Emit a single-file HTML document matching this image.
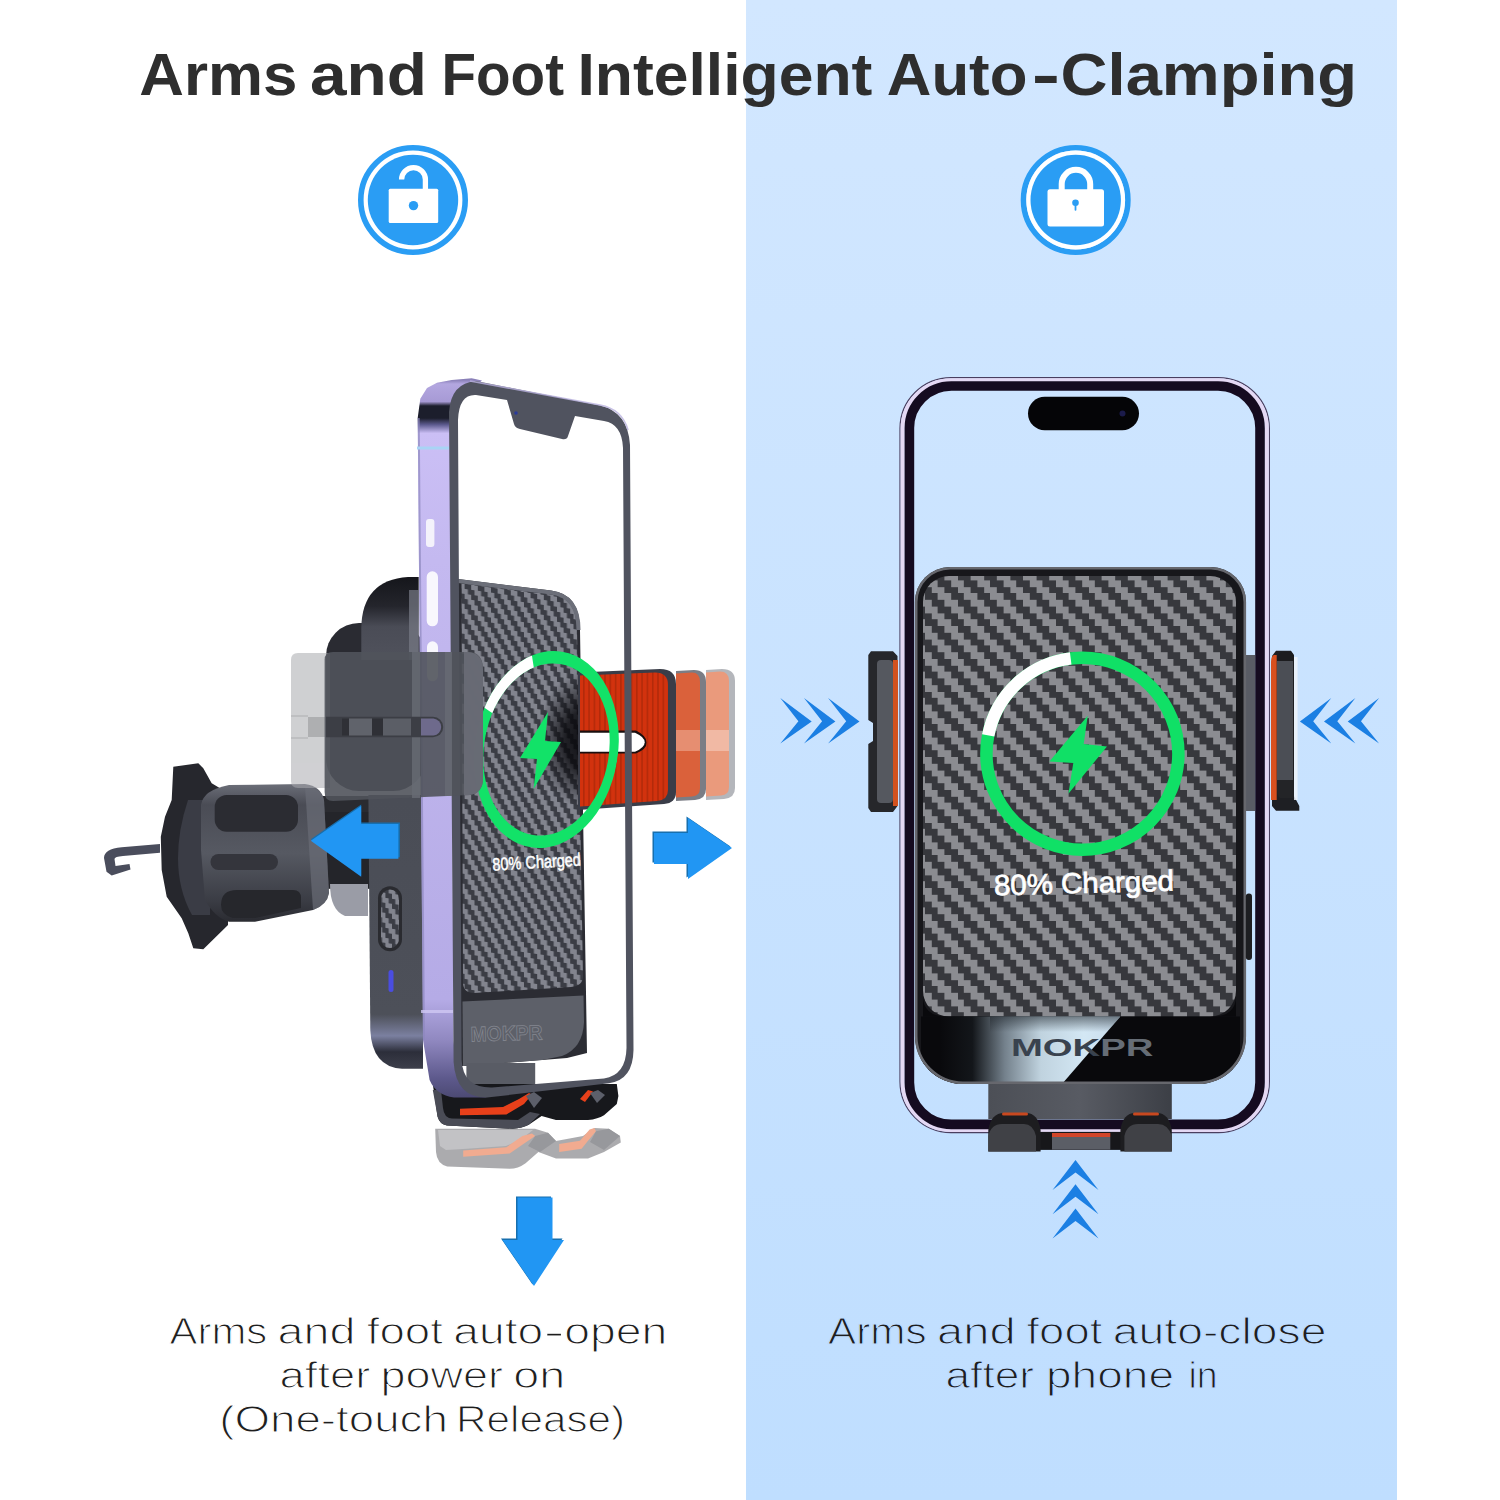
<!DOCTYPE html>
<html><head><meta charset="utf-8">
<style>
html,body{margin:0;padding:0;background:#fff;}
body{width:1500px;height:1500px;overflow:hidden;position:relative;font-family:"Liberation Sans",sans-serif;}
svg{position:absolute;left:0;top:0;display:block}
text{font-family:"Liberation Sans",sans-serif;}
</style></head><body>
<svg width="1500" height="1500" viewBox="0 0 1500 1500">
<defs>
<linearGradient id="panel" x1="0" y1="0" x2="0" y2="1">
<stop offset="0" stop-color="#d2e7ff"/><stop offset="1" stop-color="#bfdeff"/>
</linearGradient>

<pattern id="cf" width="26.2" height="26.2" patternUnits="userSpaceOnUse" patternTransform="translate(951.2 580.4)">
<rect width="26.2" height="26.2" fill="#37383d"/>
<g fill="#8b8c91" shape-rendering="crispEdges">
<rect x="0" y="0" width="13.1" height="6.55"/>
<rect x="6.55" y="6.55" width="13.1" height="6.55"/>
<rect x="13.1" y="13.1" width="13.1" height="6.55"/>
<rect x="19.65" y="19.65" width="6.55" height="6.55"/><rect x="0" y="19.65" width="6.55" height="6.55"/>
</g>
</pattern>
<linearGradient id="gloss" gradientUnits="userSpaceOnUse" x1="940" y1="0" x2="1120" y2="0">
<stop offset="0" stop-color="#09090c"/><stop offset="0.18" stop-color="#13161a"/><stop offset="0.36" stop-color="#74818c"/><stop offset="0.56" stop-color="#c0d3df"/><stop offset="0.8" stop-color="#d3e7f4"/><stop offset="1" stop-color="#c8dcec"/>
</linearGradient>
<linearGradient id="footg" gradientUnits="userSpaceOnUse" x1="988" y1="0" x2="1172" y2="0">
<stop offset="0" stop-color="#4c4f56"/><stop offset="0.5" stop-color="#585b63"/><stop offset="1" stop-color="#3c3f46"/>
</linearGradient>
<clipPath id="padclip"><path d="M915 602 A35 35 0 0 1 950 567 L1211 567 A35 35 0 0 1 1246 602 L1246 1036 A48 48 0 0 1 1198 1084 L963 1084 A48 48 0 0 1 915 1036 Z"/></clipPath>
<linearGradient id="glossv" x1="0" y1="0" x2="0" y2="1"><stop offset="0" stop-color="#20262c" stop-opacity="0.55"/><stop offset="1" stop-color="#20262c" stop-opacity="0"/></linearGradient>

<pattern id="cf2" width="4" height="4" patternUnits="userSpaceOnUse" patternTransform="matrix(3.3 0.46 0 5 458 583)">
<rect width="4" height="4" fill="#3b3d45"/>
<g fill="#82848e">
<rect x="0" y="0" width="2" height="1"/><rect x="1" y="1" width="2" height="1"/><rect x="2" y="2" width="2" height="1"/><rect x="3" y="3" width="1" height="1"/><rect x="0" y="3" width="1" height="1"/>
</g>
</pattern>
<linearGradient id="sideg" x1="0" y1="380" x2="0" y2="1100" gradientUnits="userSpaceOnUse">
<stop offset="0" stop-color="#8a80b8"/><stop offset="0.0055" stop-color="#b3a7e0"/><stop offset="0.03" stop-color="#a79ad5"/><stop offset="0.036" stop-color="#1c1e2c"/><stop offset="0.053" stop-color="#1c1e2c"/><stop offset="0.062" stop-color="#5c5a8e"/><stop offset="0.074" stop-color="#cbbff5"/><stop offset="0.25" stop-color="#c4b9f0"/><stop offset="0.86" stop-color="#b5abe6"/><stop offset="0.917" stop-color="#9088c0"/><stop offset="0.97" stop-color="#5d598c"/><stop offset="1" stop-color="#4a4870"/>
</linearGradient>
<linearGradient id="backg" x1="0" y1="577" x2="0" y2="660" gradientUnits="userSpaceOnUse">
<stop offset="0" stop-color="#15161b"/><stop offset="0.35" stop-color="#24252c"/><stop offset="0.6" stop-color="#4a4c56"/><stop offset="1" stop-color="#50525c"/>
</linearGradient>
<linearGradient id="bodyg" x1="0" y1="800" x2="0" y2="1068" gradientUnits="userSpaceOnUse">
<stop offset="0" stop-color="#4a4d56"/><stop offset="0.8" stop-color="#4d5059"/><stop offset="0.88" stop-color="#7b80a0"/><stop offset="0.94" stop-color="#2c2e3a"/><stop offset="1" stop-color="#3c3e4a"/>
</linearGradient>
<linearGradient id="knobg" x1="0" y1="784" x2="0" y2="922" gradientUnits="userSpaceOnUse">
<stop offset="0" stop-color="#6b6e78"/><stop offset="0.15" stop-color="#4a4c55"/><stop offset="0.5" stop-color="#565962"/><stop offset="0.85" stop-color="#3a3c44"/><stop offset="1" stop-color="#2a2b31"/>
</linearGradient>
<clipPath id="padL"><path d="M458 579 L551 590.5 Q580 594 580 630 L587 1053 L567 1058 L465 1066 L461 1066 Z"/></clipPath>
<radialGradient id="shad" gradientUnits="userSpaceOnUse" cx="588" cy="740" r="66" gradientTransform="translate(588 740) scale(0.78 1.05) translate(-588 -740)"><stop offset="0" stop-color="#08080c" stop-opacity="0.95"/><stop offset="0.45" stop-color="#08080c" stop-opacity="0.8"/><stop offset="0.8" stop-color="#08080c" stop-opacity="0.3"/><stop offset="1" stop-color="#08080c" stop-opacity="0"/></radialGradient>
<clipPath id="ringL"><path clip-rule="evenodd" d="M475 749.5 A71.5 99 0 1 0 618 749.5 A71.5 99 0 1 0 475 749.5 Z M484 749.5 A62.5 86.5 0 1 1 609 749.5 A62.5 86.5 0 1 1 484 749.5 Z"/></clipPath>
<pattern id="ribs" width="5.3" height="10" patternUnits="userSpaceOnUse"><rect width="5.3" height="10" fill="#d2320e"/><rect x="0" width="1.6" height="10" fill="#b32a0a"/></pattern>
<!--DEFS-->
</defs>
<rect x="0" y="0" width="1500" height="1500" fill="#ffffff"/>
<rect x="746" y="0" width="651" height="1500" fill="url(#panel)"/>

<!-- TITLE -->
<g font-size="60" font-weight="700" fill="#2e2e2e">
<text x="139.3" y="95.0" textLength="158.0" lengthAdjust="spacingAndGlyphs">Arms</text>
<text x="310.0" y="95.0" textLength="117.0" lengthAdjust="spacingAndGlyphs">and</text>
<text x="441.5" y="95.0" textLength="122.5" lengthAdjust="spacingAndGlyphs">Foot</text>
<text x="577.5" y="95.0" textLength="294.9" lengthAdjust="spacingAndGlyphs">Intelligent</text>
<text x="886.8" y="95.0" textLength="140.6" lengthAdjust="spacingAndGlyphs">Auto</text>
<text x="1031.7" y="95.0" textLength="28.3" lengthAdjust="spacingAndGlyphs">-</text>
<text x="1060.6" y="95.0" textLength="296.5" lengthAdjust="spacingAndGlyphs">Clamping</text>
</g>

<!-- ICON: unlocked -->
<g id="icon-unlock">
<circle cx="413" cy="200" r="52.2" fill="none" stroke="#2a9df4" stroke-width="5.6"/>
<circle cx="413" cy="200" r="45.2" fill="#2a9df4"/>
<rect x="388.7" y="188.8" width="49.5" height="34.1" rx="1.5" fill="#fff"/>
<path d="M401.6 179.5 A11.9 11.9 0 0 1 425.4 179.5 L425.4 190" fill="none" stroke="#fff" stroke-width="5.3"/>
<circle cx="413.5" cy="205.6" r="4.7" fill="#2a9df4"/>
</g>
<!-- ICON: locked -->
<g id="icon-lock">
<circle cx="1075.7" cy="200" r="52.2" fill="none" stroke="#2a9df4" stroke-width="5.6"/>
<circle cx="1075.7" cy="200" r="49.4" fill="#fff"/>
<circle cx="1075.7" cy="200" r="45.2" fill="#2a9df4"/>
<rect x="1047.5" y="189.3" width="56.5" height="37.3" rx="2.5" fill="#fff"/>
<path d="M1061.7 191 L1061.7 184.1 A14.25 14.25 0 0 1 1090.2 184.1 L1090.2 191" fill="none" stroke="#fff" stroke-width="6"/>
<circle cx="1075.5" cy="202.8" r="3.3" fill="#2a9df4"/>
<rect x="1074.6" y="203" width="1.8" height="7.7" rx="0.9" fill="#2a9df4"/>
</g>


<g id="left-product">
<!-- vent clip hook -->
<path d="M160 844 L121.7 847.3 Q104 849 104 858 L106.5 871.7 L111.7 875.5 L130.5 869.5 L129.5 864 L115.5 866 L114.5 859 Q114.5 856.5 123 856 L160 852.7 Z" fill="#4a4d5c"/>
<!-- flange -->
<path d="M173.3 766.7 L198.3 763.3 L203.3 768.3 L211.7 783.3 L228 793 L228 925 L203.3 949.2 L193.3 948.3 L188.3 933.3 L181.7 918.3 L166.7 896.7 L161.7 870 L160.8 836.7 L165 816.7 L171.7 800 Z" fill="#26272d"/>
<path d="M188 800 Q178 830 178 858 Q178 890 192 915 L210 915 L210 800 Z" fill="#3a3c45"/>
<!-- neck -->
<rect x="318" y="809.6" width="54" height="79.2" fill="#24252a"/><rect x="320" y="796" width="52" height="16" fill="#2a2b30"/>
<path d="M330 884 L368 884 L368 916 L345 916 Q330 910 330 884 Z" fill="#9a9ca6"/>
<!-- knob -->
<g transform="translate(-7 0)">
<path d="M208 805 Q210 790 236 785 L312 784 Q328 786 331 800 L336 893 Q334 905 320 910 L262 921.7 L236 921.7 Q222 918 212 900 L208 850 Z" fill="url(#knobg)"/>
<rect x="221.7" y="795" width="83.3" height="36.7" rx="12" fill="#2b2c32"/>
<rect x="217.5" y="854" width="67.5" height="16" rx="8" fill="#34353c"/>
<path d="M228 905 Q228 890 244 890 L300 890 Q308 890 308 898 L308 908 L262 918 L240 918 Q228 915 228 905 Z" fill="#26272c"/>
<path d="M312 786 Q328 788 331 800 L336 893 Q334 905 320 910 Z" fill="#6a6c76" opacity="0.7"/>
</g>
<!-- mount back -->
<rect x="326" y="623" width="100" height="168" rx="33" fill="#2a2b32"/>
<path d="M361.3 660 L361.3 628 Q362 580 408 577 L418.7 577 L418.7 660 Z" fill="url(#backg)"/>
<rect x="409" y="590" width="9.7" height="70" fill="#777a86" opacity="0.7"/>
<!-- charger body side -->
<path d="M368.4 795 L423 795 L423 1068.8 L402 1068.8 Q372 1067 370.3 1030 Z" fill="url(#bodyg)"/>
<rect x="378" y="886.3" width="24" height="65" rx="12" fill="#2a2b30"/>
<rect x="381" y="889.5" width="18" height="58.6" rx="9" fill="url(#cf2)"/>
<rect x="388.5" y="970" width="5" height="22" rx="2.5" fill="#4a4de0"/>
<!-- charger front (through phone) -->
<g clip-path="url(#padL)">
<rect x="455" y="575" width="135" height="500" fill="#2b2c33"/>
<path d="M462.5 1001.5 L583.5 995.5 L584 1022 Q583 1048 562 1056 L540 1060.5 L463 1066 Z" fill="#5d6069"/>
<path d="M461.5 583.5 L551 594.5 Q577 597 577 630 L583 976 Q583 986 571 987 L474 993 Q463 993 463 982 Z" fill="url(#cf2)"/>
<rect x="520" y="666" width="70" height="150" fill="url(#shad)"/>
</g>
<path d="M458 581 L551 592.5 Q578.5 596 578.5 630" fill="none" stroke="#6c6f79" stroke-width="4"/>
<text x="470.5" y="1040.5" font-size="21" font-weight="700" fill="#5d6069" stroke="#83868f" stroke-width="0.8" textLength="72" lengthAdjust="spacingAndGlyphs" transform="rotate(-1.5 506 1032)">MOKPR</text>
<rect x="466.4" y="1063" width="68.8" height="30" fill="#595c65"/>
<!-- orange arm + ghosts -->
<g>
<path d="M706 670 L722 669 Q735 669 735 681 L735 788 Q735 798 724 799 L706 800 Z" fill="#9b9da4" opacity="0.75"/>
<path d="M706 672.5 L720 671.5 Q729 671.5 729 681 L729 787 Q729 795 721 795.5 L706 796.5 Z" fill="#ea9a7c"/>
<path d="M676 671 L694 670 Q706 670 706 682 L706 789 Q706 799 695 800 L676 801 Z" fill="#6d6f78" opacity="0.9"/>
<path d="M676 673.5 L692 672.5 Q700 672.5 700 682 L700 788 Q700 796 692 796.5 L676 797.5 Z" fill="#da613b"/>
<path d="M578 672.5 L660 669 Q676 669 676 684 L676 792 Q676 803 664 804 L578 810 Z" fill="#3a3d48"/>
<path d="M580 675.5 L655 672.5 Q668 672.5 668 685 L668 790 Q668 800 657 801 L580 806.5 Z" fill="url(#ribs)"/>

<path d="M580 730.5 L636 730.5 Q647 736 646.5 742.5 Q647 749 636 753.5 L580 753.5 Z" fill="#1a0f0f"/>
<path d="M580 732.7 L635 732.7 Q644.7 737 644.7 742.2 Q644.7 747.5 635 751.7 L580 751.7 Z" fill="#ffffff"/>
<rect x="676" y="730" width="24" height="21" fill="#e89a80" opacity="0.8"/>
<rect x="706" y="730" width="23" height="21" fill="#f2c0ae" opacity="0.8"/>
</g>
<!-- ring -->
<g transform="rotate(9 546.5 749.5)" clip-path="url(#ringL)">
<rect x="460" y="640" width="180" height="220" fill="#12e268"/>
<path d="M546.5 749.5 L444.8 702.4 L466.8 650.1 L502.9 613.8 Z" fill="#ffffff"/>
</g>
<path d="M548 712 L520 758 L537 759 L533.6 789 L561 742 L545 741 Z" fill="#12e268"/>
<text x="492.8" y="870.7" font-size="18" fill="#fff" stroke="#fff" stroke-width="0.5" textLength="88.5" lengthAdjust="spacingAndGlyphs" transform="rotate(-3.3 492.8 870.7)">80% Charged</text>
<!-- foot ghost + foot -->
<g opacity="0.9">
<path d="M435.2 1128.8 L535 1128.8 L548 1132.8 L556 1141 L583 1136 L594.4 1128 L608.8 1128.8 L620 1136 L620.8 1142.4 L604 1152 L588 1158.4 L556 1158.4 L538.4 1152 L525.6 1163.2 Q518 1168.8 509.6 1168.8 L447.2 1166.4 Q437 1164 436 1152 Z" fill="#a3a3a6"/>
<path d="M438 1130 L533 1130 L520 1140 L506 1146 L463 1149 L446 1150 L440 1146 Z" fill="#bcbcbf"/>
<path d="M463.2 1150.4 L506.4 1147.2 L522.4 1136 L532 1133.6 L535.2 1136 L525.6 1142.4 L509.6 1153.6 L463.2 1156.8 Z" fill="#f0a284"/>
<path d="M559.2 1144 L580 1140.8 L589.6 1129.6 L594.4 1128 L596 1131.2 L588 1140.8 L581.6 1148.8 L559.2 1152 Z" fill="#f0a284"/>
<path d="M535.2 1136 L548 1132.8 L556 1141 L540 1152 L528 1146 Z" fill="#8c8d92"/>
<path d="M596 1131.2 L608.8 1128.8 L620 1136 L604 1150 L590 1142 Z" fill="#8c8d92"/>
</g>
<path d="M432.8 1084 L437.6 1116.8 Q440 1124.8 447 1125.4 L512.8 1128.8 Q522 1128.4 528.8 1124.8 L541.6 1116 L556 1120 L588 1120 Q598 1119 604 1115.2 L616.8 1104 L618.4 1096 L616.8 1084 Z" fill="#17181c"/>
<path d="M432.8 1090 L437.6 1116.8 Q440 1124.8 447 1125.4 L512.8 1128.8 Q522 1128.4 528.8 1124.8 L540 1114 L530 1112 L518 1120 L452 1118.5 Q444 1118 443 1108 L441 1090 Z" fill="#4a4c56"/>
<path d="M460 1108.8 L503 1107 L519 1099 L529 1093 L532 1094.4 L524 1104 L506.4 1114.4 L460 1115.2 Z" fill="#e8401a"/>
<path d="M580 1099 L588 1090 L593 1091.5 L585 1102 Z" fill="#e8401a"/>
<path d="M526 1096 L534 1092 L542 1098 L534 1108 Z" fill="#5c5f6a"/>
<path d="M590 1093 L598 1090 L605 1095 L597 1103 Z" fill="#5c5f6a"/>
<!-- phone side -->
<path d="M417.7 418 L420.3 398.7 L427 388 L437 382.7 L451.7 380 L471.7 378.3 L482 380.5 L450 412 L453.6 1040 L456 1070 Q462 1090 487 1097.6 L454 1097.6 Q436 1095 429.6 1080 L423 1040 L421 800 Z" fill="url(#sideg)"/>
<path d="M417.7 418 L419.7 418 L425 1040 L423 1040 L421 800 Z" fill="#8d87bd" opacity="0.7"/><rect x="417" y="446.5" width="32" height="3" fill="#a9d4f5"/>
<rect x="426" y="519" width="8.4" height="28" rx="3" fill="#f4f2fb"/>
<rect x="426.7" y="571.3" width="11.3" height="55" rx="5.6" fill="#f8f7fd"/>
<rect x="427" y="641.3" width="11" height="40" rx="5.5" fill="#f8f7fd"/>
<rect x="421" y="1010" width="32" height="3" fill="#cfc8f2" opacity="0.8"/>
<!-- phone bezel -->
<path fill-rule="evenodd" fill="#50535f" d="M449 412 Q451 383 476 381 L600 405.5 Q628 412 630 445 L633.5 1050 Q633 1080 609 1083.2 L487 1097.6 Q456 1098 453.6 1062 Z M458 420 Q459 394 476 395 L507 400 L514 424 Q515 428 520 429 L562 439 Q567 440 568 436 L575 416 L604 421 Q622 424 623 448 L626.5 1048 Q626 1075 604 1078.5 L492 1087.5 Q463 1088 461.6 1060 Z"/>
<circle cx="516" cy="413" r="1.8" fill="#2a3a9a"/><path d="M470 381 L600 405 Q622 409 628 430" fill="none" stroke="#b9b2de" stroke-width="1.6" opacity="0.8"/>
<!-- left arm ghost -->
<g opacity="0.55">
<path d="M291 660 Q291 653 298 653 L330 653 L330 788 L298 788 Q291 788 291 781 Z" fill="#a9aaae"/>
<rect x="308" y="717" width="22" height="20" fill="#6d6e72"/>
<rect x="291" y="715" width="17" height="2" fill="#8a8b8f"/><rect x="291" y="737" width="17" height="2" fill="#8a8b8f"/>
</g>
<!-- left arm -->
<path d="M324.6 660 Q324.6 652 333 652 L470 652 Q483 653 483 670 L483 778 Q483 793 470 795 L333 801 Q324.6 801 324.6 792 Z" fill="#50535b" opacity="0.9"/>
<path d="M468 652 Q483 653 483 670 L483 778 Q483 793 470 795 L464 795.3 L464 652 Z" fill="#6a6d77" opacity="0.9"/>
<path d="M412 652 h8 v146 h-8 Z M445 652 h7 v144 h-7 Z" fill="#686b74" opacity="0.8"/>
<path d="M326 716.8 L433 716.8 A10.2 10.2 0 0 1 433 737.2 L326 737.2 Z" fill="#3c3e45"/>
<rect x="349" y="718.5" width="23" height="17" fill="#60636b"/><rect x="383" y="718.5" width="28" height="17" fill="#5b5e66"/>
<rect x="342" y="718.5" width="7" height="17" fill="#2f3036"/><rect x="372" y="718.5" width="11" height="17" fill="#2f3036"/>
<path d="M421 718.5 L433.5 718.5 A8.6 8.6 0 0 1 433.5 735.6 L421 735.6 Z" fill="#6e6a8c"/>
<!-- arrows -->
<g fill="#176fae">
<path d="M310.8 839.3 L361.2 804.5 L361.2 822.5 L399.9 822.5 L399.9 857.3 L361.2 857.3 L361.2 875.3 Z"/>
<path d="M730.5 846.5 L686.5 816.5 L686.5 831.5 L652.5 831.5 L652.5 862.5 L686.5 862.5 L686.5 877.5 Z"/>
<path d="M532.5 1284.5 L501 1238.5 L516 1238.5 L516 1196.5 L551 1196.5 L551 1238.5 L562.5 1238.5 Z"/>
</g>
<g fill="#2196f3">
<path d="M310.8 840.8 L361.2 806 L361.2 824 L398.4 824 L398.4 858.8 L361.2 858.8 L361.2 876.8 Z"/>
<path d="M732 848 L688 818 L688 833 L654 833 L654 864 L688 864 L688 879 Z"/>
<path d="M534 1286 L502.5 1240 L517.5 1240 L517.5 1197.5 L552.5 1197.5 L552.5 1240 L564 1240 Z"/>
</g>
</g>
<!--LEFTPRODUCT-->

<g id="right-product">
<!-- left arm -->
<path d="M871 651.2 L893 651.2 L897.5 656 L897.5 806 L893 812 L871 812 L868.3 808 L868.3 744 L873 741 L873 723 L868.3 720 L868.3 655 Z" fill="#26272b"/>
<rect x="877" y="660" width="16" height="143" rx="4" fill="#55585f"/>
<rect x="893" y="660" width="5" height="146" fill="#d2521f"/>
<!-- right arm -->
<rect x="1246" y="655" width="9" height="156" fill="#595c65"/>
<path d="M1272 656 L1276 650.7 L1291 650.7 L1294 655 L1294 796 L1299.3 806 L1299.3 810.7 L1276 810.7 L1272 806 Z" fill="#1e1f23"/>
<rect x="1277" y="661" width="16" height="121" fill="#4b4e55"/>
<path d="M1277 661 Q1277 652 1285 652 L1291 652 Q1293.5 653 1293.5 661 Z" fill="#1c1c1f"/>
<path d="M1277 780 L1293.5 780 L1293.5 798 L1280 798 Q1277 796 1277 790 Z" fill="#232427"/>
<path d="M1271 662 Q1271 656 1274 655 L1276.7 655 L1276.7 800 L1271 800 Z" fill="#d8501f"/>
<rect x="1294" y="657" width="3.6" height="143" fill="#eef4fc" opacity="0.85"/>
<!-- foot block (behind pad) -->
<rect x="988.3" y="1078" width="183.5" height="41" fill="url(#footg)"/>
<!-- pad -->
<g clip-path="url(#padclip)">
<rect x="915" y="567" width="331" height="520" fill="#17171b"/>
<rect x="923" y="576" width="313" height="440.5" rx="26" fill="url(#cf)"/>
<rect x="921" y="1016.5" width="319" height="70" fill="#09090c"/>
<path d="M923 1016.5 L923 996 Q923 1016.5 947 1016.5 Z M1236 1016.5 L1236 996 Q1236 1016.5 1212 1016.5 Z" fill="#09090c"/>
<path d="M923 1016.5 L1120.4 1016.5 L1062 1084 L923 1084 Z" fill="url(#gloss)"/>
<path d="M990 1016.5 L1120.4 1016.5 L1107 1032 L990 1032 Z" fill="url(#glossv)"/>
</g>
<path d="M916.2 602 A34 34 0 0 1 950 568.2 L1211 568.2 A34 34 0 0 1 1244.8 602 L1244.8 1036 A47 47 0 0 1 1198 1082.8 L963 1082.8 A47 47 0 0 1 916.2 1036 Z" fill="none" stroke="#66676d" stroke-width="2.6"/>
<rect x="1245.8" y="893.6" width="6.2" height="66.3" rx="3" fill="#1d1e22"/>
<!-- ring -->
<circle cx="1082.4" cy="753.7" r="96" fill="none" stroke="#10e066" stroke-width="12.5"/>
<path d="M1070.7 658.4 A96 96 0 0 0 988.2 735.4" fill="none" stroke="#ffffff" stroke-width="12.5"/>
<path d="M1087.7 715.8 L1049.4 761.5 L1073.3 763 L1068.4 793.7 L1107 746.5 L1083.7 744 Z" fill="#10e066"/>
<text x="994" y="893" font-size="29" fill="#fff" stroke="#fff" stroke-width="0.7" textLength="180" lengthAdjust="spacingAndGlyphs" transform="rotate(-1.5 1084 885)">80% Charged</text>
<!-- logo -->
<text x="1011" y="1056.4" font-size="23.5" font-weight="700" fill="#39424e" textLength="142.4" lengthAdjust="spacingAndGlyphs">MOK<tspan fill="#666d76">PR</tspan></text>
<!-- phone frame -->
<rect x="900" y="377.6" width="369.4" height="755" rx="51" fill="none" stroke="#4a3f60" stroke-width="1.2"/>
<rect x="902.6" y="380.2" width="364.2" height="749.8" rx="48.5" fill="none" stroke="#e4d8f4" stroke-width="4"/>
<rect x="909.4" y="386" width="350.6" height="738.4" rx="42" fill="none" stroke="#150b20" stroke-width="9.6"/>
<rect x="1028" y="396.8" width="111" height="33.4" rx="16.7" fill="#050507"/>
<circle cx="1122.5" cy="413.5" r="3" fill="#1b1b4a"/>
<!-- foot hooks (front) -->
<rect x="1040" y="1131.9" width="81" height="18" fill="#17171a"/>
<rect x="1052" y="1133" width="58.3" height="4" fill="#d2452a"/>
<rect x="1052" y="1137" width="58.3" height="12.6" fill="#5b5e66"/>
<path d="M988.3 1151.6 L988.3 1130 Q991 1113 1004 1113 L1026 1113 Q1038 1113 1040.6 1130 L1040.6 1151.6 Z" fill="#1d1d20"/>
<path d="M988.3 1151.6 L988.3 1136 Q991 1124 1002 1124 L1024 1124 Q1033 1124 1036 1136 L1036 1151.6 Z" fill="#404146"/>
<path d="M1120.4 1151.6 L1120.4 1130 Q1123 1113 1135 1113 L1157 1113 Q1169 1113 1171.8 1130 L1171.8 1151.6 Z" fill="#1d1d20"/>
<path d="M1124.4 1151.6 L1124.4 1136 Q1127 1124 1138 1124 L1158 1124 Q1168 1124 1171.8 1136 L1171.8 1151.6 Z" fill="#404146"/>
<rect x="1002" y="1112.6" width="26" height="3" rx="1.5" fill="#c8481f"/>
<rect x="1133" y="1112.6" width="26" height="3" rx="1.5" fill="#c8481f"/>
<!-- chevrons -->
<g fill="#1b7fe3">
<path id="chv" d="M780.3 698 L811.7 721.6 L780.3 743.5 L798.4 721.3 Z"/>
<use href="#chv" x="23.7"/><use href="#chv" x="47.8"/>
<g transform="translate(2159.4 0) scale(-1 1)"><use href="#chv"/><use href="#chv" x="23.7"/><use href="#chv" x="47.8"/></g>
<path id="chu" d="M1075.5 1160 L1098.5 1190 L1075.5 1172.5 L1052.5 1190 Z"/>
<use href="#chu" y="24.3"/><use href="#chu" y="48.6"/>
</g>
</g>
<!--RIGHTPRODUCT-->

<!-- BOTTOM TEXT -->
<g fill="#1e1e1e" font-size="37.4">
<text stroke="#ffffff" stroke-width="1.1" x="169.6" y="1344.3" textLength="97.6" lengthAdjust="spacingAndGlyphs">Arms</text>
<text stroke="#ffffff" stroke-width="1.1" x="277.6" y="1344.3" textLength="77.8" lengthAdjust="spacingAndGlyphs">and</text>
<text stroke="#ffffff" stroke-width="1.1" x="366.7" y="1344.3" textLength="76.2" lengthAdjust="spacingAndGlyphs">foot</text>
<text stroke="#ffffff" stroke-width="1.1" x="453.3" y="1344.3" textLength="89.9" lengthAdjust="spacingAndGlyphs">auto</text>
<text stroke="#ffffff" stroke-width="1.1" x="543.6" y="1344.3" textLength="21.2" lengthAdjust="spacingAndGlyphs">-</text>
<text stroke="#ffffff" stroke-width="1.1" x="564.2" y="1344.3" textLength="103.1" lengthAdjust="spacingAndGlyphs">open</text>
<text stroke="#ffffff" stroke-width="1.1" x="279.6" y="1388.3" textLength="90.7" lengthAdjust="spacingAndGlyphs">after</text>
<text stroke="#ffffff" stroke-width="1.1" x="380.4" y="1388.3" textLength="122.5" lengthAdjust="spacingAndGlyphs">power</text>
<text stroke="#ffffff" stroke-width="1.1" x="513.3" y="1388.3" textLength="52.0" lengthAdjust="spacingAndGlyphs">on</text>
<text stroke="#ffffff" stroke-width="1.1" x="219.2" y="1432.3" textLength="228.7" lengthAdjust="spacingAndGlyphs">(One-touch</text>
<text stroke="#ffffff" stroke-width="1.1" x="456.1" y="1432.3" textLength="169.0" lengthAdjust="spacingAndGlyphs">Release)</text>
<text stroke="#bfddff" stroke-width="1.1" x="828.1" y="1344.3" textLength="98.6" lengthAdjust="spacingAndGlyphs">Arms</text>
<text stroke="#bfddff" stroke-width="1.1" x="937.1" y="1344.3" textLength="78.5" lengthAdjust="spacingAndGlyphs">and</text>
<text stroke="#bfddff" stroke-width="1.1" x="1026.5" y="1344.3" textLength="75.8" lengthAdjust="spacingAndGlyphs">foot</text>
<text stroke="#bfddff" stroke-width="1.1" x="1112.8" y="1344.3" textLength="213.7" lengthAdjust="spacingAndGlyphs">auto-close</text>
<text stroke="#bfddff" stroke-width="1.1" x="945.5" y="1388.3" textLength="88.6" lengthAdjust="spacingAndGlyphs">after</text>
<text stroke="#bfddff" stroke-width="1.1" x="1046.0" y="1388.3" textLength="128.0" lengthAdjust="spacingAndGlyphs">phone</text>
<text stroke="#bfddff" stroke-width="1.1" x="1188.5" y="1388.3" textLength="29.2" lengthAdjust="spacingAndGlyphs">in</text>
</g>
</svg>
</body></html>
